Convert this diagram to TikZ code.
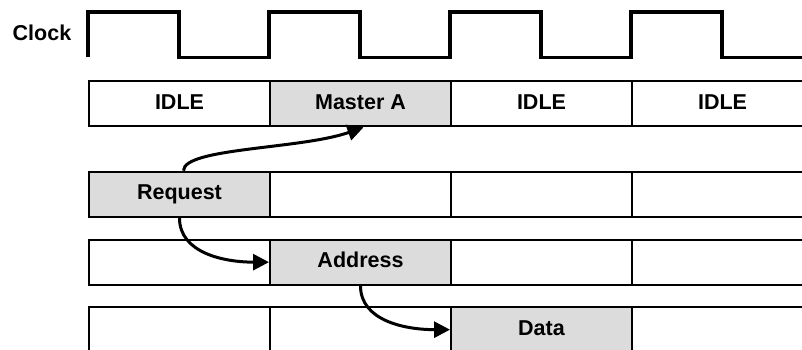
\documentclass[tikz,border=0pt]{standalone}
\usepackage{fontspec}
\setmainfont{Liberation Sans}
\usetikzlibrary{arrows.meta}
\definecolor{cellgray}{RGB}{220,220,220}
\begin{document}
\begin{tikzpicture}[x=1pt,y=-1pt,
  cell/.style={draw=black, line width=2pt, minimum width=181pt, minimum height=45.3pt,
    inner sep=0pt, anchor=north west, text height=15.4pt, text depth=4.2pt,
    font=\fontsize{21.5}{24}\selectfont\bfseries},
  busy/.style={cell, fill=cellgray},
  lbl/.style={inner sep=0pt, font=\fontsize{21.5}{24}\selectfont\bfseries},
  arr/.style={line width=3pt, -{Triangle[length=16pt,width=16pt]}},
  clk/.style={line width=3.2pt}
]
\useasboundingbox (0,0) rectangle (802,349);
\clip (0,0) rectangle (802,349);
% clock
\node[lbl] (clocklbl) at (42,33) {Clock};
\draw[clk] (88,57.3) \foreach \x in {88,269,450,631}{ -- (\x,12) -- (\x+91,12) -- (\x+91,57.3) -- (\x+181,57.3)};
% row 1
\node[cell] (i1) at (88,80) {IDLE};
\node[busy] (mA) at (269,80) {Master A};
\node[cell] (i2) at (450,80) {IDLE};
\node[cell] (i3) at (631,80) {IDLE};
% row 2
\node[busy] (req) at (88,170.7) {Request};
\node[cell] (r2) at (269,170.7) {};
\node[cell] (r3) at (450,170.7) {};
\node[cell] (r4) at (631,170.7) {};
% row 3
\node[cell] (a1) at (88,238.5) {};
\node[busy] (addr) at (269,238.5) {Address};
\node[cell] (a3) at (450,238.5) {};
\node[cell] (a4) at (631,238.5) {};
% row 4
\node[cell] (d1) at (88,306) {};
\node[cell] (d2) at (269,306) {};
\node[busy] (data) at (450,306) {Data};
\node[cell] (d4) at (631,306) {};
% arrows
\draw[arr] ([xshift=4pt]req.north) .. controls +(0,-23) and +(-63,22) .. ([xshift=3pt]mA.south);
\draw[arr] (req.south) .. controls +(0,35) and +(-45,0) .. (addr.west);
\draw[arr] (addr.south) .. controls +(0,35) and +(-45,0) .. (data.west);
\end{tikzpicture}
\end{document}
